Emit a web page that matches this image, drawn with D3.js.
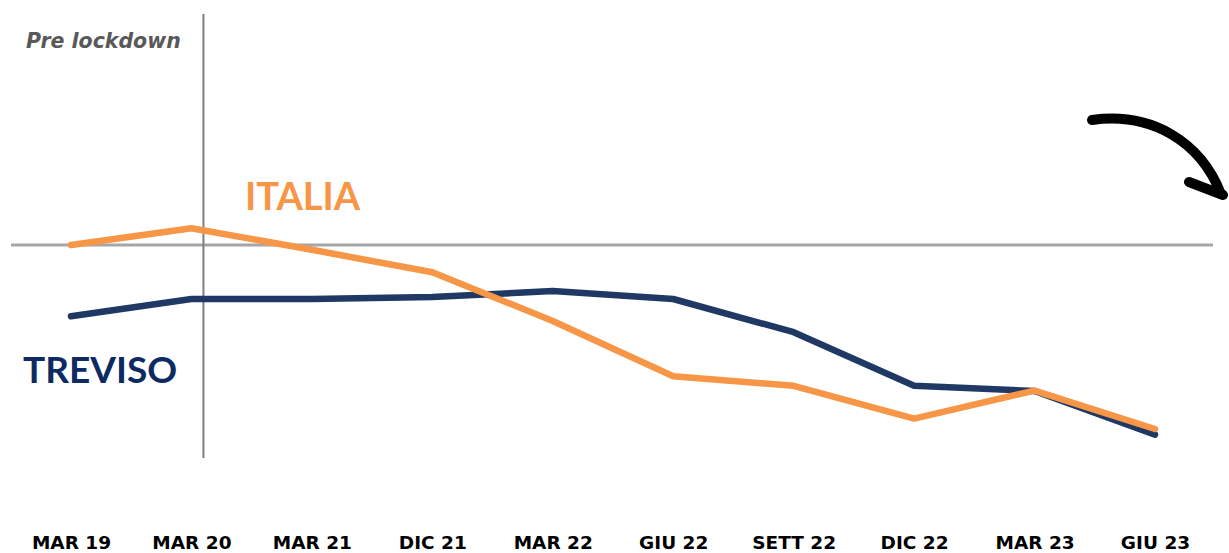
<!DOCTYPE html>
<html><head><meta charset="utf-8">
<script src="https://cdn.jsdelivr.net/npm/d3@7"></script>
<style>
html,body{margin:0;padding:0;background:#fff;}
svg{display:block;}
</style></head>
<body>
<script>
const categories = ["MAR 19","MAR 20","MAR 21","DIC 21","MAR 22","GIU 22","SETT 22","DIC 22","MAR 23","GIU 23"];
const italia  = [100, 102.1, 99.4, 96.6, 90.5, 83.6, 82.4, 78.3, 81.8, 77.0];
const treviso = [91.1, 93.25, 93.25, 93.5, 94.25, 93.25, 89.1, 82.4, 81.75, 76.3];
const baseline = 100;
const lockdownIndex = 1;

const W = 1229, H = 553;
const svg = d3.select("body").append("svg").attr("width", W).attr("height", H);

const x = d3.scalePoint().domain(categories).range([71, 1155]);
const y = d3.scaleLinear().domain([100, 80]).range([245, 405]);

// baseline
svg.append("line").attr("x1", 11).attr("x2", 1213)
  .attr("y1", y(baseline)).attr("y2", y(baseline))
  .attr("stroke", "#a6a6a6").attr("stroke-width", 3);

// lockdown vertical
const vx = x(categories[lockdownIndex]) + 12;
svg.append("line").attr("x1", vx).attr("x2", vx).attr("y1", 14).attr("y2", 458)
  .attr("stroke", "#7f7f7f").attr("stroke-width", 2);

const line = d3.line().x((d,i)=>x(categories[i])).y(d=>y(d));

svg.append("path").datum(treviso).attr("d", line)
  .attr("fill","none").attr("stroke","#1f3864").attr("stroke-width",6.5)
  .attr("stroke-linejoin","round").attr("stroke-linecap","round");
svg.append("path").datum(italia).attr("d", line)
  .attr("fill","none").attr("stroke","#f79646").attr("stroke-width",6.5)
  .attr("stroke-linejoin","round").attr("stroke-linecap","round");

// axis labels
const axis = d3.axisBottom(x).tickSize(0).tickPadding(0);
const g = svg.append("g").attr("transform","translate(0,549)").call(axis);
g.select(".domain").remove();
g.selectAll("text").attr("dy","0")
  .style("fill","#000").style("font-size","18.5px").style("font-weight","bold")
  .style("font-family","'DejaVu Sans',sans-serif");

// labels
svg.append("text").attr("x",26).attr("y",48).text("Pre lockdown")
  .style("font-family","'DejaVu Sans',sans-serif")
  .style("font-size","20.5px").style("font-style","italic").style("font-weight","bold").style("fill","#595959");
svg.append("text").attr("x",245).attr("y",210).text("ITALIA")
  .style("font-family","Lato,sans-serif")
  .style("font-size","38px").style("font-weight","bold").style("fill","#f79646");
svg.append("text").attr("x",23).attr("y",383).text("TREVISO")
  .style("font-family","Lato,sans-serif")
  .style("font-size","37px").style("font-weight","bold").style("fill","#0d2a62");

// arrow
svg.append("path").attr("d","M1092,120 C1150,112 1200,140 1221,194")
  .attr("fill","none").attr("stroke","#000").attr("stroke-width",10).attr("stroke-linecap","round");
svg.append("path").attr("d","M1189,182 L1223,195")
  .attr("fill","none").attr("stroke","#000").attr("stroke-width",10).attr("stroke-linecap","round");
</script>
</body></html>
